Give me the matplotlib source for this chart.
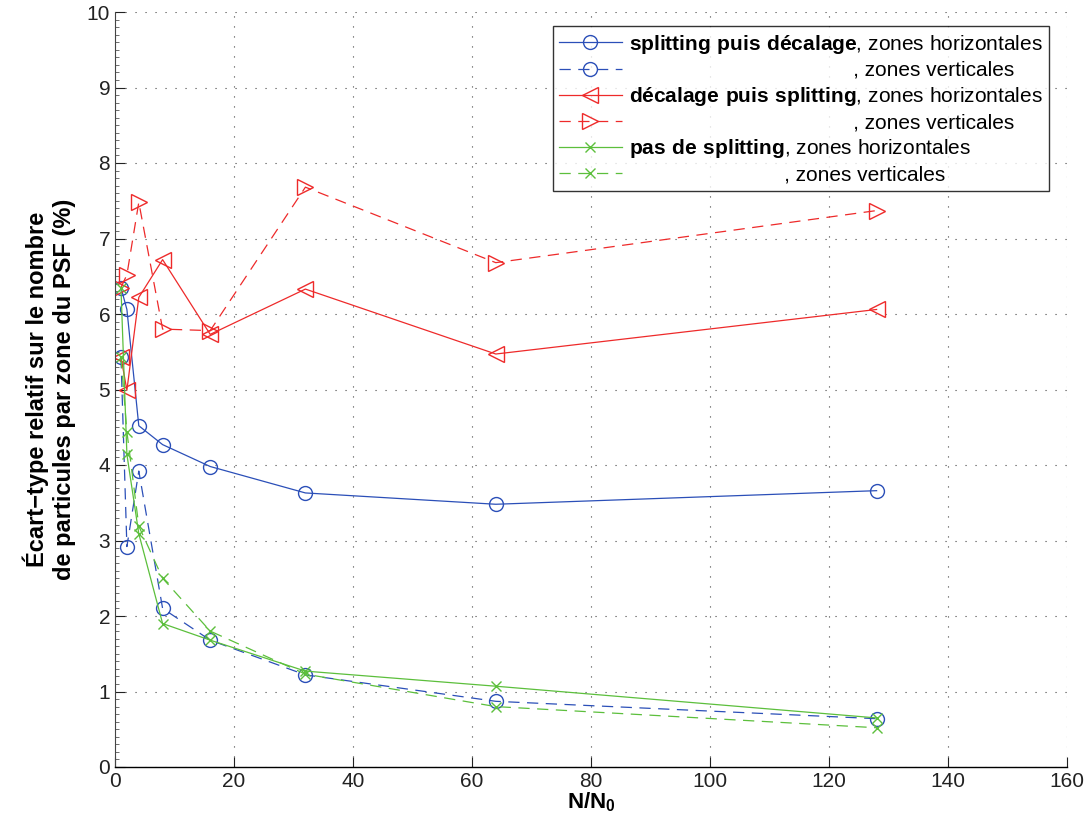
import matplotlib
matplotlib.use('Agg')
import matplotlib.pyplot as plt
from matplotlib.ticker import MultipleLocator

plt.rcParams['font.family'] = ['Liberation Sans', 'DejaVu Sans']
plt.rcParams['mathtext.fontset'] = 'custom'
plt.rcParams['mathtext.rm'] = 'Liberation Sans'
plt.rcParams['mathtext.bf'] = 'Liberation Sans:bold'

# N/N0
n_ratio = [1, 2, 4, 8, 16, 32, 64, 128]

# splitting puis décalage
spd_horiz = [6.35, 6.06, 4.52, 4.27, 3.98, 3.63, 3.48, 3.66]
spd_vert = [5.43, 2.92, 3.92, 2.10, 1.68, 1.22, 0.87, 0.64]
# décalage puis splitting
dps_horiz = [5.43, 4.99, 6.22, 6.72, 5.73, 6.33, 5.47, 6.06]
dps_vert = [6.35, 6.52, 7.48, 5.80, 5.78, 7.68, 6.68, 7.37]
# pas de splitting
pas_horiz = [6.35, 4.14, 3.09, 1.90, 1.68, 1.27, 1.07, 0.65]
pas_vert = [5.43, 4.44, 3.19, 2.50, 1.80, 1.23, 0.80, 0.52]

methodes = ['splitting puis décalage', 'décalage puis splitting', 'pas de splitting']

bleu = '#2b4fb8'
rouge = '#ee2a2a'
vert = '#5cbf3c'

fig = plt.figure(figsize=(10.89, 8.27), dpi=100)
ax = fig.add_axes([115 / 1089, 60 / 827, 952 / 1089, 755 / 827])

tirets = (0, (9, 6))
ax.plot(n_ratio, spd_horiz, '-', color=bleu, marker='o', mfc='none', ms=10, lw=0.9)
ax.plot(n_ratio, spd_vert, linestyle=tirets, color=bleu, marker='o', mfc='none', ms=10, lw=0.9)
ax.plot(n_ratio, dps_horiz, '-', color=rouge, marker='<', mfc='none', ms=11, lw=0.9)
ax.plot(n_ratio, dps_vert, linestyle=tirets, color=rouge, marker='>', mfc='none', ms=11, lw=0.9)
ax.plot(n_ratio, pas_horiz, '-', color=vert, marker='x', ms=7, lw=0.9)
ax.plot(n_ratio, pas_vert, linestyle=tirets, color=vert, marker='x', ms=7, lw=0.9)

ax.set_xlim(0, 160)
ax.set_ylim(0, 10)
ax.xaxis.set_major_locator(MultipleLocator(20))
ax.yaxis.set_major_locator(MultipleLocator(1))
ax.yaxis.set_minor_locator(MultipleLocator(0.1))
ax.tick_params(direction='in', labelsize=15, length=7, width=0.8, colors='#222222')
ax.tick_params(axis='y', which='minor', direction='in', length=3, width=0.6, color='#555555')
ax.grid(True, which='major', linestyle=(0, (1, 8)), color='#444444', lw=0.8)
ax.spines['top'].set_visible(False)
ax.spines['right'].set_visible(False)
ax.spines['left'].set_color('#444444')
ax.spines['bottom'].set_linewidth(1.0)

ax.set_xlabel('N/N$_\\mathbf{0}$', fontsize=16, fontweight='bold', labelpad=0)
ax.set_ylabel('Écart\u2212type relatif sur le nombre\nde particules par zone du PSF (%)',
              fontsize=17, fontweight='bold', labelpad=8)

taille_leg = 15

# largeur du texte en gras pour aligner ", zones verticales"
renderer = fig.canvas.get_renderer()
def blancs(txt):
    t1 = fig.text(0, 0, txt, fontsize=taille_leg, fontweight='bold')
    t3 = fig.text(0, 0, 'a' + ' ' * 10 + 'a', fontsize=taille_leg)
    t4 = fig.text(0, 0, 'aa', fontsize=taille_leg)
    w1 = t1.get_window_extent(renderer).width
    w_esp = (t3.get_window_extent(renderer).width - t4.get_window_extent(renderer).width) / 10
    for t in (t1, t3, t4):
        t.remove()
    return ' ' * int(round(w1 / w_esp))

labels = []
for m in methodes:
    labels.append('$\\bf{' + m.replace(' ', '\\ ') + '}$, zones horizontales')
    labels.append(blancs(m) + ', zones verticales')

leg = ax.legend(ax.get_lines(), labels, loc='upper right', bbox_to_anchor=(0.981, 0.981),
                borderaxespad=0, fontsize=taille_leg, frameon=True, fancybox=False,
                edgecolor='black', handlelength=3.0, labelspacing=0.25, borderpad=0.3,
                handletextpad=0.35)
leg.get_frame().set_linewidth(1.0)

fig.savefig('out.png', dpi=100)
